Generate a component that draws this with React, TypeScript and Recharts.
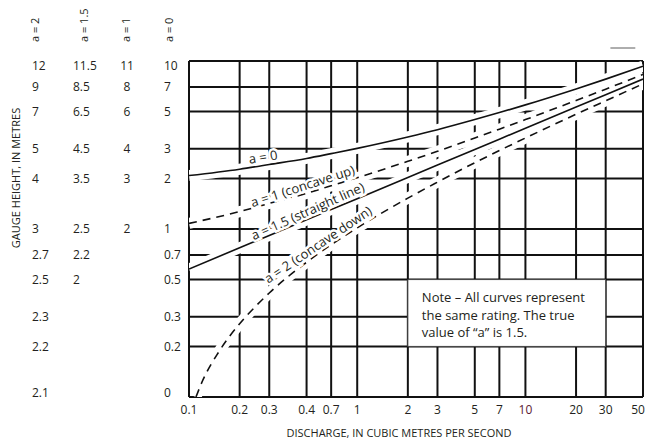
import React from "react";
import {
  LineChart,
  Line,
  XAxis,
  YAxis,
  CartesianGrid,
  ReferenceArea,
  ReferenceDot,
  ReferenceLine,
} from "recharts";

// discharge (m3/s) — grid positions and the printed labels (the print shows "0.4" on the 0.5 line)
const xTicks = [0.1, 0.2, 0.3, 0.5, 0.7, 1, 2, 3, 5, 7, 10, 20, 30, 50];
const xTickLabels = ["0.1", "0.2", "0.3", "0.4", "0.7", "1", "2", "3", "5", "7", "10", "20", "30", "50"];

// gauge height minus offset, log grid lines
const yTicks = [0.1, 0.2, 0.3, 0.5, 0.7, 1, 2, 3, 5, 7, 10];
const colA2 = ["2.1", "2.2", "2.3", "2.5", "2.7", "3", "4", "5", "7", "9", "12"];
const colA15 = ["", "", "", "2", "2.2", "2.5", "3.5", "4.5", "6.5", "8.5", "11.5"];
const colA1 = ["", "", "", "", "", "2", "3", "4", "6", "8", "11"];
const colA0 = ["0", "0.2", "0.3", "0.5", "0.7", "1", "2", "3", "5", "7", "10"];

// curves
const qPoints = [0.1, 0.2, 0.3, 0.5, 0.7, 1, 2, 3, 5, 7, 10, 20, 30, 50];
const a0Values = [2.08, 2.27, 2.42, 2.63, 2.81, 3.02, 3.53, 3.9, 4.48, 4.93, 5.48, 6.82, 7.8, 9.31];
const a1Values = [1.08, 1.27, 1.42, 1.63, 1.81, 2.02, 2.53, 2.9, 3.48, 3.93, 4.48, 5.82, 6.8, 8.31];
const a15Values = [0.578, 0.773, 0.916, 1.134, 1.306, 1.516, 2.027, 2.402, 2.976, 3.426, 3.978, 5.32, 6.3, 7.81];
const a2Q = [0.11, 0.12, 0.15, 0.2, 0.25, 0.3, 0.5, 0.7, 1, 2, 3, 5, 7, 10, 20, 30, 50];
const a2Values = [0.1, 0.124, 0.185, 0.273, 0.348, 0.416, 0.634, 0.806, 1.016, 1.527, 1.9, 2.48, 2.93, 3.48, 4.82, 5.8, 7.31];

const curveLabels = [
  { q: 0.28, v: 2.42, text: "a = 0", angle: -9 },
  { q: 0.49, v: 1.63, text: "a = 1 (concave up)", angle: -18 },
  { q: 0.53, v: 1.16, text: "a = 1.5 (straight line)", angle: -24 },
  { q: 0.62, v: 0.74, text: "a = 2 (concave down)", angle: -34 },
];

const a0Data = qPoints.map((q, i) => ({ q, v: a0Values[i] }));
const a1Data = qPoints.map((q, i) => ({ q, v: a1Values[i] }));
const a15Data = qPoints.map((q, i) => ({ q, v: a15Values[i] }));
const a2Data = a2Q.map((q, i) => ({ q, v: a2Values[i] }));

const FONT = "'Open Sans', 'Noto Sans', sans-serif";
const INK = "#231f20";

function YTick({ y, payload }: any) {
  const i = yTicks.indexOf(payload.value);
  // the printed labels at the two ends sit a little inside
  const nudge = i === yTicks.length - 1 ? 5 : i === 0 ? -4 : 0;
  const ty = y + nudge;
  return (
    <g fontFamily={FONT} fontSize={12} fill={INK}>
      <text x={32} y={ty} dy="0.35em">{colA2[i]}</text>
      <text x={73} y={ty} dy="0.35em">{colA15[i]}</text>
      <text x={127} y={ty} dy="0.35em" textAnchor="middle">{colA1[i]}</text>
      <text x={164} y={ty} dy="0.35em">{colA0[i]}</text>
    </g>
  );
}

function XTick({ x, y, payload }: any) {
  const i = xTicks.indexOf(payload.value);
  const last = i === xTicks.length - 1;
  return (
    <text
      x={last ? x - 5 : x}
      y={y}
      dy="0.71em"
      textAnchor="middle"
      fontFamily={FONT}
      fontSize={12}
      fill={payload.value === 10 ? "#5c1a33" : INK}
    >
      {xTickLabels[i]}
    </text>
  );
}

function YTitle() {
  const heads = [
    { x: 34, t: "a = 2" },
    { x: 83, t: "a = 1.5" },
    { x: 125, t: "a = 1" },
    { x: 168, t: "a = 0" },
  ];
  return (
    <g fontFamily={FONT} fill={INK}>
      <text x={15} y={178} fontSize={11} textAnchor="middle" dominantBaseline="central" transform="rotate(-90 15 178)">
        GAUGE HEIGHT, IN METRES
      </text>
      {heads.map((h) => (
        <text key={h.t} x={h.x} y={42} fontSize={11} dominantBaseline="central" transform={`rotate(-90 ${h.x} 42)`}>
          {h.t}
        </text>
      ))}
    </g>
  );
}

function CurveLabel({ cx, cy, text, angle }: any) {
  return (
    <text
      x={cx}
      y={cy}
      dy={-3}
      textAnchor="middle"
      transform={`rotate(${angle} ${cx} ${cy})`}
      fontFamily={FONT}
      fontSize={13}
      fill={INK}
      stroke="#fff"
      strokeWidth={5}
      paintOrder="stroke"
    >
      {text}
    </text>
  );
}

function NoteText({ viewBox }: any) {
  const { x, y } = viewBox;
  return (
    <g fontFamily={FONT} fontSize={13} fill={INK}>
      <text x={x + 14} y={y + 22}>Note – All curves represent</text>
      <text x={x + 14} y={y + 40}>the same  rating. The true</text>
      <text x={x + 14} y={y + 57}>value of “a” is 1.5.</text>
    </g>
  );
}

export default function App() {
  const halo = { stroke: "#fff", strokeWidth: 11, dot: false, activeDot: false, isAnimationActive: false } as const;
  return (
    <div style={{ position: "absolute", left: 0, top: 0, background: "#fff" }}>
      <LineChart width={648} height={442} margin={{ top: 61, right: 5, bottom: 0, left: 0 }}>
        <CartesianGrid stroke="#111" strokeWidth={2} />
        <XAxis
          dataKey="q"
          type="number"
          scale="log"
          domain={[0.1, 50]}
          ticks={xTicks}
          interval={0}
          allowDataOverflow
          axisLine={false}
          tickLine={false}
          height={45}
          tick={<XTick />}
          label={{
            content: () => (
              <text x={399} y={437} textAnchor="middle" fontFamily={FONT} fontSize={11} fill={INK}>
                DISCHARGE, IN CUBIC METRES PER SECOND
              </text>
            ),
          }}
        />
        <YAxis
          dataKey="v"
          type="number"
          scale="log"
          domain={[0.1, 10]}
          ticks={yTicks}
          interval={0}
          allowDataOverflow
          axisLine={false}
          tickLine={false}
          width={189}
          tick={<YTick />}
          label={{ content: () => <YTitle /> }}
        />
        <ReferenceArea x1={2} x2={30} y1={0.2} y2={0.5} fill="#fff" fillOpacity={1} stroke="#444" strokeWidth={1} label={{ content: (p: any) => <NoteText {...p} /> }} />
        <ReferenceLine segment={[{ x: 32, y: 11.95 }, { x: 45, y: 11.95 }]} stroke="#777" strokeWidth={1.2} ifOverflow="visible" />

        <Line data={a0Data} dataKey="v" type="monotone" {...halo} />
        <Line data={a1Data} dataKey="v" type="monotone" {...halo} />
        <Line data={a15Data} dataKey="v" type="linear" {...halo} />
        <Line data={a2Data} dataKey="v" type="monotone" {...halo} />

        <Line data={a0Data} dataKey="v" type="monotone" stroke="#111" strokeWidth={1.6} dot={false} activeDot={false} isAnimationActive={false} />
        <Line data={a1Data} dataKey="v" type="monotone" stroke="#111" strokeWidth={1.6} strokeDasharray="8 6" dot={false} activeDot={false} isAnimationActive={false} />
        <Line data={a15Data} dataKey="v" type="linear" stroke="#111" strokeWidth={1.6} dot={false} activeDot={false} isAnimationActive={false} />
        <Line data={a2Data} dataKey="v" type="monotone" stroke="#111" strokeWidth={1.6} strokeDasharray="8 6" dot={false} activeDot={false} isAnimationActive={false} />

        {curveLabels.map((c) => (
          <ReferenceDot
            key={c.text}
            x={c.q}
            y={c.v}
            r={0}
            ifOverflow="visible"
            shape={(p: any) => <CurveLabel {...p} text={c.text} angle={c.angle} />}
          />
        ))}
      </LineChart>
    </div>
  );
}
